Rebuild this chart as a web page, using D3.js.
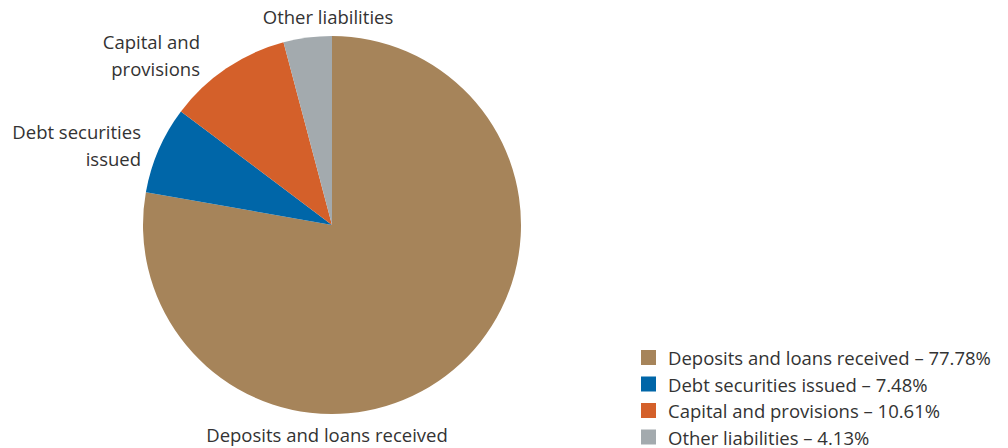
<!DOCTYPE html>
<html><head><meta charset="utf-8">
<script src="https://cdn.jsdelivr.net/npm/d3@7"></script>
<style>body{margin:0;background:#fff}svg{display:block}text{font-family:"Open Sans",sans-serif;fill:#333;font-variant-ligatures:none}</style>
</head><body><svg id="c" width="1008" height="448"></svg>
<script>
const categories = ["Deposits and loans received","Debt securities issued","Capital and provisions","Other liabilities"];
const values = [77.78, 7.48, 10.61, 4.13];
const colors = ["#A6845A","#0066A8","#D4602A","#A3AAAE"];
const sliceLabels = [["Deposits and loans received"],["Debt securities","issued"],["Capital and","provisions"],["Other liabilities"]];

const svg = d3.select("#c");
const cx = 332, cy = 225, r = 189;
const data = categories.map((c,i)=>({c, v: values[i], color: colors[i], lab: sliceLabels[i]}));
const pie = d3.pie().sort(null).value(d=>d.v);
const arc = d3.arc().innerRadius(0).outerRadius(r);
const g = svg.append("g").attr("transform",`translate(${cx},${cy})`);
g.selectAll("path").data(pie(data)).join("path").attr("d",arc).attr("fill",d=>d.data.color);

const labLayout = [
  {x:-5, y:217, anchor:"middle"},
  {x:-191, y:-86, anchor:"end"},
  {x:-132, y:-176, anchor:"end"},
  {x:-4, y:-201, anchor:"middle"}
];
const fs = 18.5, lh = 26.5;
data.forEach((d,i)=>{
  const L = labLayout[i];
  const t = g.append("text").attr("text-anchor",L.anchor).attr("font-size",fs);
  d.lab.forEach((line,j)=>t.append("tspan").attr("x",L.x).attr("y",L.y + j*lh).text(line));
});

const leg = svg.append("g").attr("transform","translate(641,350)");
const rowH = 26.5;
data.forEach((d,i)=>{
  const row = leg.append("g").attr("transform",`translate(0,${i*rowH})`);
  row.append("rect").attr("width",15).attr("height",15).attr("fill",d.color);
  row.append("text").attr("x",27).attr("y",15).attr("font-size",fs).text(`${d.c} – ${d3.format(".2f")(d.v)}%`);
});
</script></body></html>
